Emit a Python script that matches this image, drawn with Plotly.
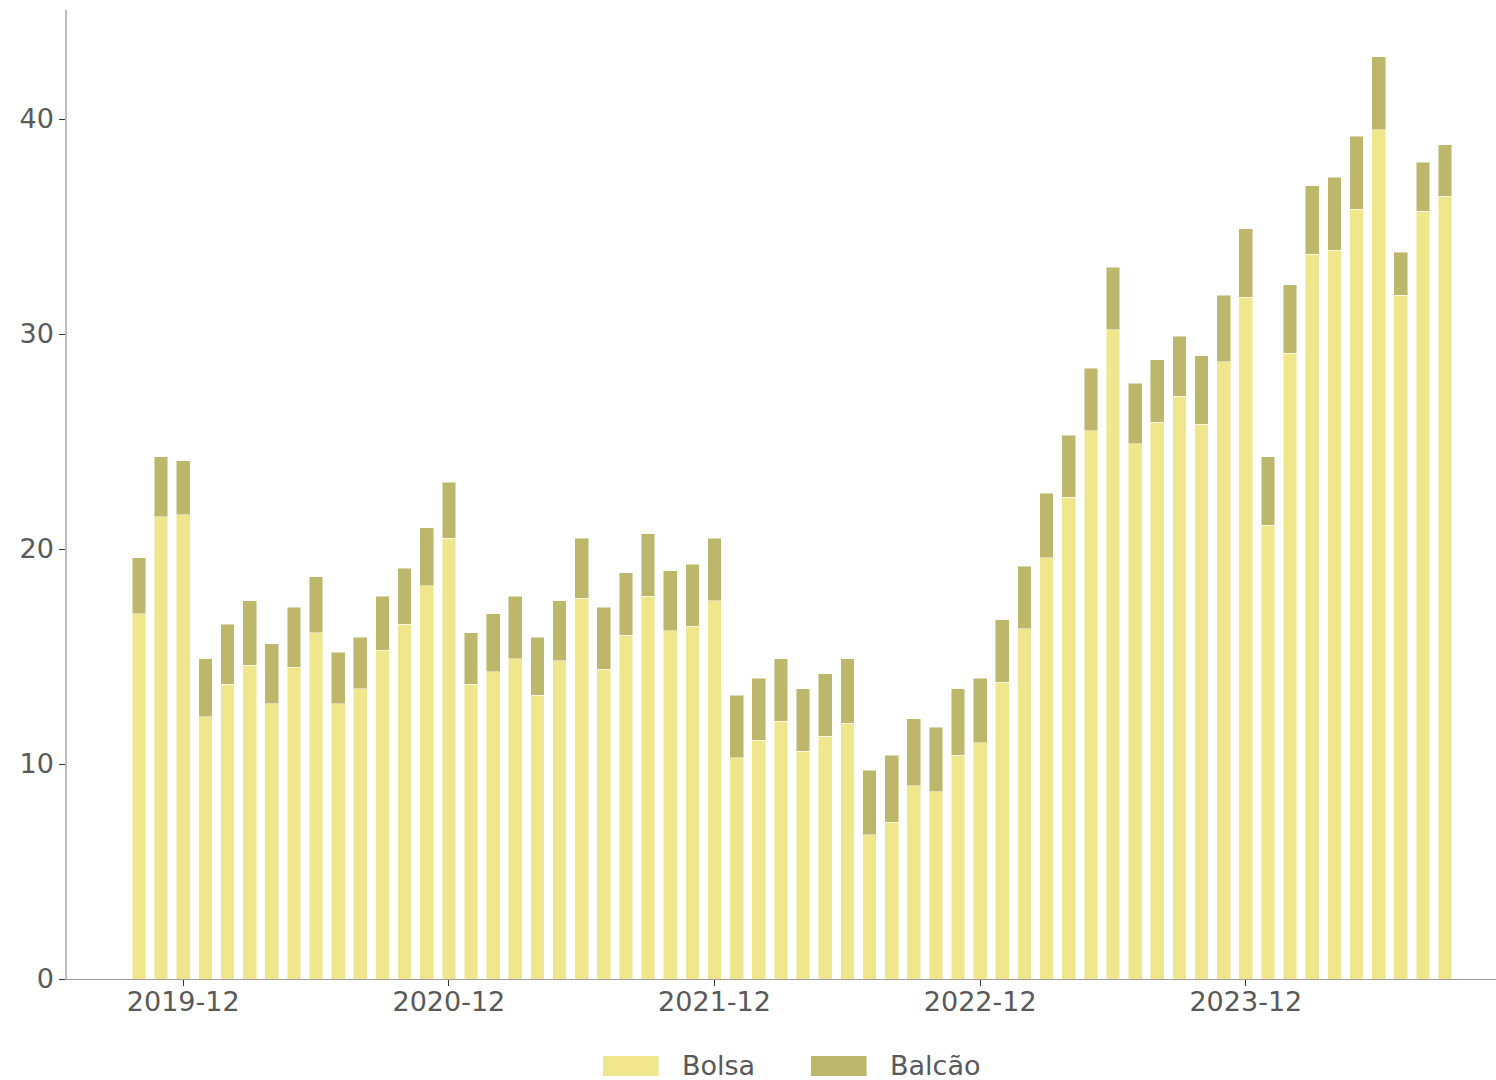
import plotly.graph_objects as go

months = [f"{y}-{m:02d}" for y in range(2019, 2025) for m in range(1, 13)]
months = months[months.index("2019-10"):months.index("2024-09") + 1]

bolsa = [17.0, 21.5, 21.6, 12.2, 13.7, 14.6, 12.8, 14.5, 16.1, 12.8, 13.5, 15.3,
         16.5, 18.3, 20.5, 13.7, 14.3, 14.9, 13.2, 14.8, 17.7, 14.4, 16.0, 17.8,
         16.2, 16.4, 17.6, 10.3, 11.1, 12.0, 10.6, 11.3, 11.9, 6.7, 7.3, 9.0,
         8.7, 10.4, 11.0, 13.8, 16.3, 19.6, 22.4, 25.5, 30.2, 24.9, 25.9, 27.1,
         25.8, 28.7, 31.7, 21.1, 29.1, 33.7, 33.9, 35.8, 39.5, 31.8, 35.7, 36.4]
total = [19.6, 24.3, 24.1, 14.9, 16.5, 17.6, 15.6, 17.3, 18.7, 15.2, 15.9, 17.8,
         19.1, 21.0, 23.1, 16.1, 17.0, 17.8, 15.9, 17.6, 20.5, 17.3, 18.9, 20.7,
         19.0, 19.3, 20.5, 13.2, 14.0, 14.9, 13.5, 14.2, 14.9, 9.7, 10.4, 12.1,
         11.7, 13.5, 14.0, 16.7, 19.2, 22.6, 25.3, 28.4, 33.1, 27.7, 28.8, 29.9,
         29.0, 31.8, 34.9, 24.3, 32.3, 36.9, 37.3, 39.2, 42.9, 33.8, 38.0, 38.8]
balcao = [round(t - b, 2) for t, b in zip(total, bolsa)]

series_names = ["Bolsa", "Balcão"]
series_colors = ["#F0E68C", "#BDB76B"]

tick_vals = ["2019-12", "2020-12", "2021-12", "2022-12", "2023-12"]
y_ticks = [0, 10, 20, 30, 40]

FONT = "DejaVu Sans"
TXT = "#595959"
EDGE = dict(color="rgba(255,255,255,0.6)", width=0.8)

fig = go.Figure()
for name, vals, col in zip(series_names, [bolsa, balcao], series_colors):
    fig.add_trace(go.Bar(x=months, y=vals, name=name,
                         marker=dict(color=col, line=EDGE), width=0.62,
                         showlegend=False))

# custom legend (wide swatches as in the reference), in paper coordinates
legend_items = [
    (0.3751, 0.4140, 0.4290),
    (0.5206, 0.5595, 0.5745),
]
for (x0, x1, xt), name, col in zip(legend_items, series_names, series_colors):
    fig.add_shape(type="rect", xref="paper", yref="paper",
                  x0=x0, x1=x1, y0=-0.1001, y1=-0.0794,
                  fillcolor=col, line=dict(width=0))
    fig.add_annotation(xref="paper", yref="paper", x=xt, y=-0.0888,
                       xanchor="left", yanchor="middle", text=name,
                       showarrow=False, font=dict(size=27, color=TXT, family=FONT))

fig.update_layout(
    barmode="stack",
    width=1496, height=1080,
    margin=dict(l=67, r=0, t=10, b=101),
    plot_bgcolor="white", paper_bgcolor="white",
    font=dict(family=FONT, size=27, color=TXT),
    showlegend=False,
    xaxis=dict(type="category", range=[-3.25, 61.3], tickmode="array",
               tickvals=tick_vals, ticktext=tick_vals,
               showline=True, linecolor="#9e9e9e", linewidth=1.2,
               ticks="outside", ticklen=6, tickcolor="#333", tickwidth=1.2,
               ticklabelstandoff=-8,
               showgrid=False, zeroline=False),
    yaxis=dict(range=[0, 45.07], tickvals=y_ticks,
               showline=True, linecolor="#bdbdbd", linewidth=1.5,
               ticks="outside", ticklen=6, tickcolor="#333", tickwidth=1.2,
               showgrid=False, zeroline=False),
)

fig.write_html("out.html", config={"displayModeBar": False},
               post_script="document.body.style.margin='0';document.body.style.overflow='hidden';")
